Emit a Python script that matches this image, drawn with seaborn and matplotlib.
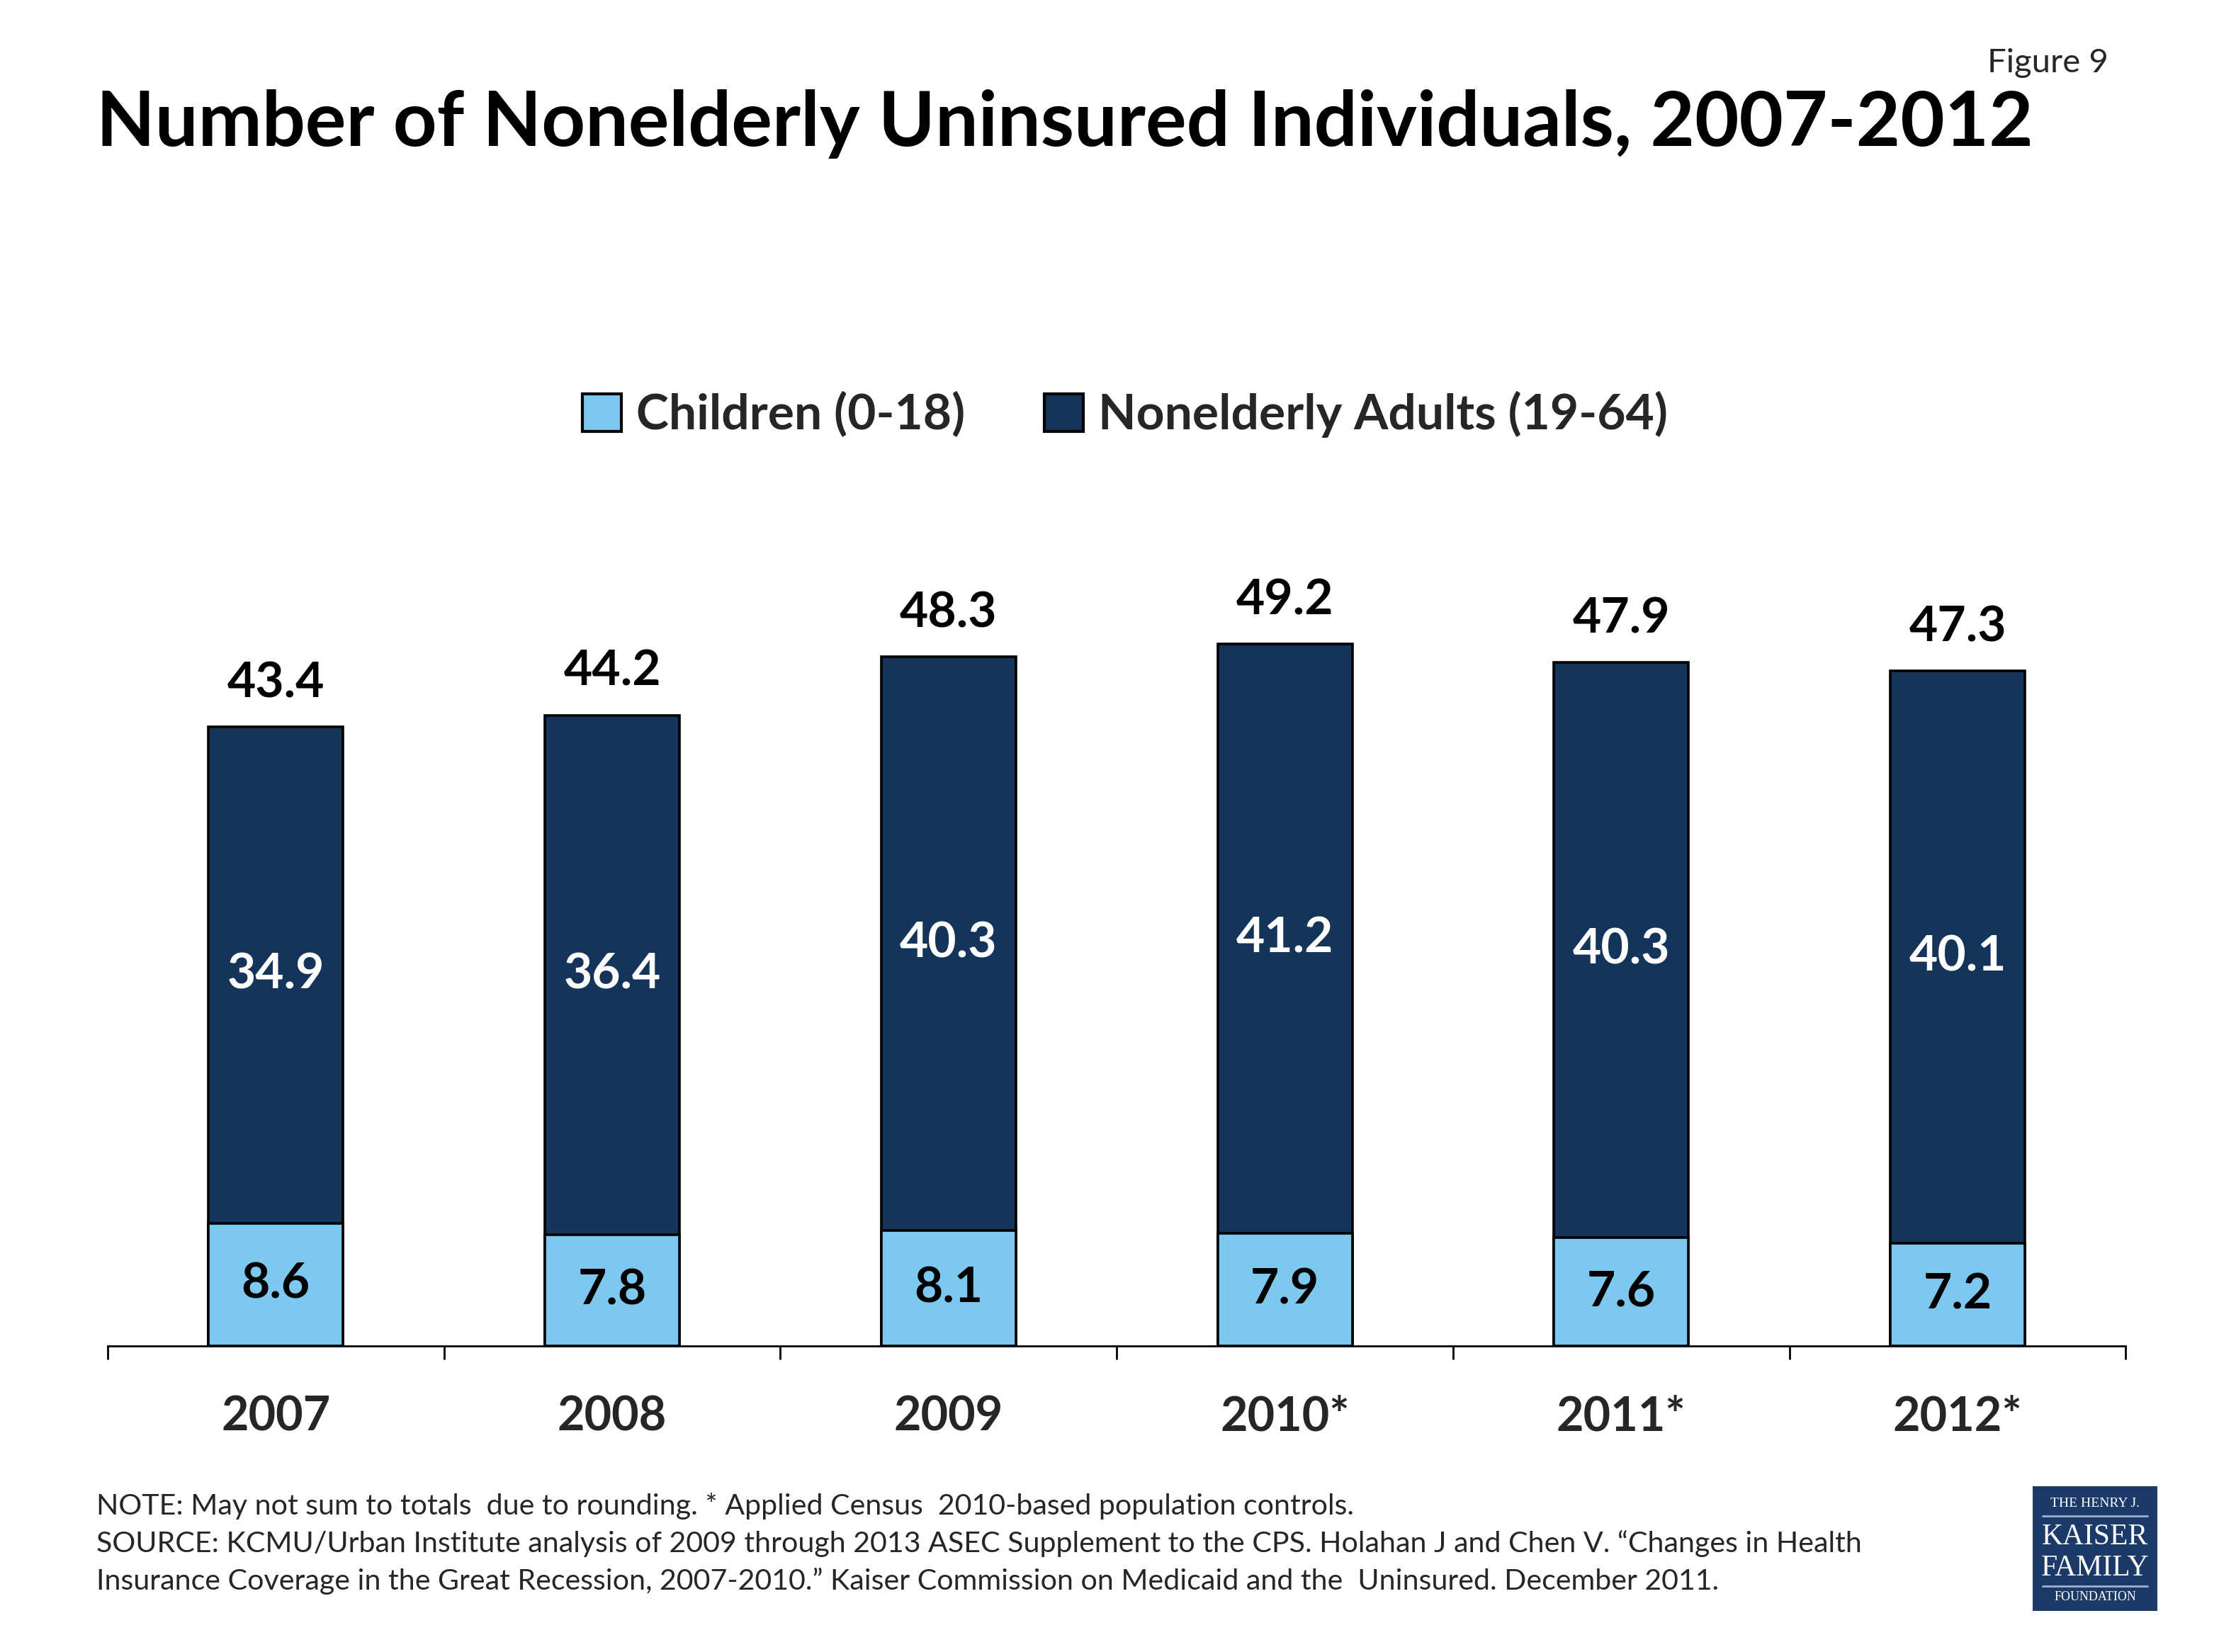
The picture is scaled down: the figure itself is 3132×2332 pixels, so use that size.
import matplotlib
matplotlib.use("Agg")
import matplotlib.pyplot as plt
import seaborn as sns
import pandas as pd
from matplotlib.patches import Rectangle

# data (millions)
years = ["2007", "2008", "2009", "2010*", "2011*", "2012*"]
children = [8.6, 7.8, 8.1, 7.9, 7.6, 7.2]
adults = [34.9, 36.4, 40.3, 41.2, 40.3, 40.1]
totals = [43.4, 44.2, 48.3, 49.2, 47.9, 47.3]

LIGHT = "#7DC8EE"
DARK = "#14345A"
FONT = ["Lato", "DejaVu Sans"]

sns.set_theme(style="white")
plt.rcParams["font.family"] = FONT

df = pd.DataFrame({"year": years, "children": children, "adults": adults, "total": totals})

fig = plt.figure(figsize=(15.66, 11.66), dpi=200)
ax = fig.add_axes([0.0485, 0.1852, 0.9095, 0.4752])

# dark bar spans the total, light bar drawn over it for children
sns.barplot(data=df, x="year", y="total", color=DARK, edgecolor="black",
            linewidth=1.3, width=0.4, saturation=1, ax=ax)
sns.barplot(data=df, x="year", y="children", color=LIGHT, edgecolor="black",
            linewidth=1.3, width=0.4, saturation=1, ax=ax)

for i in range(len(years)):
    ax.text(i, children[i] / 2, f"{children[i]:.1f}", ha="center", va="center",
            fontsize=25, fontweight="bold", color="black")
    ax.text(i, children[i] + (totals[i] - children[i]) / 2, f"{adults[i]:.1f}",
            ha="center", va="center", fontsize=25, fontweight="bold", color="white")
    ax.annotate(f"{totals[i]:.1f}", (i, totals[i]), xytext=(0, 22),
                textcoords="offset points", ha="center", va="center",
                fontsize=25, fontweight="bold", color="black")

ax.set_xlim(-0.5, len(years) - 0.5)
ax.set_ylim(0, 55)
ax.set_xlabel("")
ax.set_ylabel("")
ax.set_yticks([])
for s in ["top", "right", "left"]:
    ax.spines[s].set_visible(False)
ax.spines["bottom"].set_color("black")
ax.spines["bottom"].set_linewidth(1.0)

# boundary ticks, labels at centres
ax.set_xticks([i - 0.5 for i in range(len(years) + 1)])
ax.set_xticklabels([])
ax.set_xticks(range(len(years)), minor=True)
ax.set_xticklabels(years, minor=True, fontsize=24, fontweight="bold")
ax.tick_params(axis="x", which="major", direction="out", length=7, width=1.0,
               color="black", bottom=True)
ax.tick_params(axis="x", which="minor", length=0, pad=25)

handles = [Rectangle((0, 0), 1, 1, facecolor=LIGHT, edgecolor="black", linewidth=1.5),
           Rectangle((0, 0), 1, 1, facecolor=DARK, edgecolor="black", linewidth=1.5)]
leg = fig.legend(handles, ["Children (0-18)", "Nonelderly Adults (19-64)"],
                 loc="center", bbox_to_anchor=(0.507, 0.749), ncol=2, frameon=False,
                 prop={"family": FONT, "weight": "bold", "size": 25},
                 handlelength=0.8, handleheight=0.8, handletextpad=0.3, columnspacing=1.6)

fig.text(0.0435, 0.925, "Number of Nonelderly Uninsured Individuals, 2007-2012",
         ha="left", va="center", fontsize=38.8, fontweight="bold", color="black")
fig.text(0.950, 0.962, "Figure 9", ha="right", va="center", fontsize=17)

notes = ("NOTE: May not sum to totals  due to rounding. * Applied Census  2010-based population controls.\n"
         "SOURCE: KCMU/Urban Institute analysis of 2009 through 2013 ASEC Supplement to the CPS. Holahan J and Chen V. \u201cChanges in Health\n"
         "Insurance Coverage in the Great Recession, 2007-2010.\u201d Kaiser Commission on Medicaid and the  Uninsured. December 2011.")
fig.text(0.0435, 0.0965, notes, ha="left", va="top", fontsize=14.8, linespacing=1.48)

# logo block
lx, ly, lw, lh = 0.9160, 0.0249, 0.0563, 0.0755
fig.patches.append(Rectangle((lx, ly), lw, lh, transform=fig.transFigure,
                             facecolor="#1B3A68", edgecolor="none"))
cx = lx + lw / 2
serif = ["Liberation Serif", "DejaVu Serif"]
fig.text(cx, ly + lh * 0.86, "THE HENRY J.", ha="center", va="center", color="white",
         fontsize=7, family=serif)
fig.text(cx, ly + lh * 0.59, "KAISER", ha="center", va="center", color="white",
         fontsize=15, family=serif)
fig.text(cx, ly + lh * 0.34, "FAMILY", ha="center", va="center", color="white",
         fontsize=15, family=serif)
fig.text(cx, ly + lh * 0.11, "FOUNDATION", ha="center", va="center", color="white",
         fontsize=6.5, family=serif)
for yy in (0.76, 0.20):
    fig.add_artist(plt.Line2D([lx + lw * 0.08, lx + lw * 0.92], [ly + lh * yy] * 2,
                              transform=fig.transFigure, color="#9FB3CC", linewidth=1))

fig.savefig("out.png", dpi=200)
